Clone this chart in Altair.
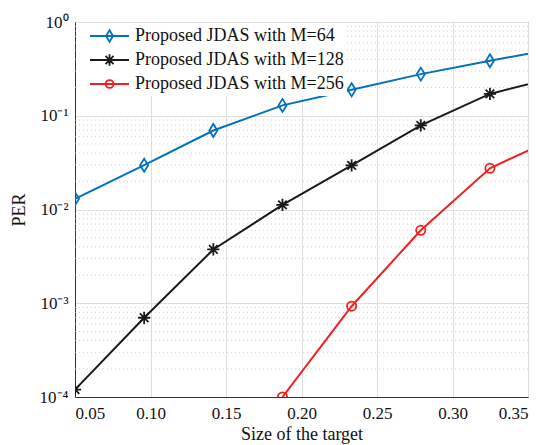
import altair as alt
import pandas as pd

# ---- data ----
x_vals = [0.05, 0.0958, 0.1416, 0.1874, 0.2332, 0.279, 0.3248, 0.3706]
per_m64 = [0.013, 0.0297, 0.0696, 0.129, 0.189, 0.278, 0.386, 0.527]
per_m128 = [0.00012, 0.0007, 0.00375, 0.0112, 0.0296, 0.079, 0.171, 0.264]
per_m256 = [None, None, None, 0.0001, 0.00093, 0.006, 0.0275, 0.0607]
series_names = ["Proposed JDAS with M=64", "Proposed JDAS with M=128", "Proposed JDAS with M=256"]
colors = ["#0072BD", "#1a1a1a", "#F21F1F"]
x_ticks = [0.05, 0.10, 0.15, 0.20, 0.25, 0.30, 0.35]
y_major = [1e-4, 1e-3, 1e-2, 1e-1, 1]
y_minor = [m * 10.0 ** e for e in range(-4, 0) for m in range(2, 10)]

rows = []
for name, vals in zip(series_names, [per_m64, per_m128, per_m256]):
    for xv, v in zip(x_vals, vals):
        if v is not None:
            rows.append({"x": xv, "per": v, "series": name})
df = pd.DataFrame(rows)
minor_df = pd.DataFrame({"v": y_minor})

# marker shapes (plot) and legend symbols (line + marker)
diamond = "M0,-1L0.62,0L0,1L-0.62,0Z"
asterisk = "M-1,0L1,0M0,-1L0,1M-0.7,-0.7L0.7,0.7M-0.7,0.7L0.7,-0.7"
circle = "circle"
leg_diamond = "M0.11,0L4.44,0M2.28,-0.64L2.67,0L2.28,0.64L1.89,0Z"
leg_asterisk = ("M0.11,0L4.44,0M2.28,-0.64L2.28,0.64M1.64,0L2.92,0"
                "M1.83,-0.45L2.73,0.45M1.83,0.45L2.73,-0.45")
leg_circle = "M0.11,0L4.44,0M2.72,0A0.44,0.44 0 1 1 1.84,0A0.44,0.44 0 1 1 2.72,0Z"

FONT = "Liberation Serif"

xscale = alt.Scale(domain=[0.05, 0.35], nice=False, zero=False)
yscale = alt.Scale(type="log", domain=[1e-4, 1], nice=False)
cscale = alt.Scale(domain=series_names, range=colors)

X = alt.X("x:Q", scale=xscale,
          axis=alt.Axis(values=x_ticks, format=".2f", title="Size of the target",
                        grid=True, gridColor="#dedede", gridWidth=1,
                        ticks=False, domainColor="#333",
                        labelFont=FONT, labelFontSize=17, labelColor="#111",
                        titleFont=FONT, titleFontSize=18, titleFontWeight="normal",
                        titleColor="#111", labelPadding=8, titlePadding=4))
Y = alt.Y("per:Q", scale=yscale,
          axis=alt.Axis(values=y_major, title="PER",
                        labelExpr="['10⁻⁴','10⁻³','10⁻²','10⁻¹','10⁰'][round(log(datum.value)/LN10)+4]",
                        grid=True, gridColor="#dedede", gridWidth=1,
                        ticks=False, domainColor="#333",
                        labelFont=FONT, labelFontSize=17, labelColor="#111",
                        titleFont=FONT, titleFontSize=18, titleFontWeight="normal",
                        titleColor="#111", labelPadding=7, titlePadding=11))

minor_grid = alt.Chart(minor_df).mark_rule(
    color="#c4c4c4", strokeWidth=0.8, strokeDash=[1, 3]
).encode(y=alt.Y("v:Q", scale=yscale))

base = alt.Chart(df)

layers = [minor_grid]
for name, col in zip(series_names, colors):
    layers.append(
        base.transform_filter(alt.datum.series == name)
        .mark_line(strokeWidth=2, clip=True, color=col)
        .encode(x=X, y=Y)
    )
for name, col, shp, sz in zip(series_names, colors, [diamond, asterisk, circle], [170, 150, 85]):
    layers.append(
        base.transform_filter(alt.datum.series == name)
        .mark_point(shape=shp, size=sz, filled=False, strokeWidth=1.8, clip=True,
                    opacity=1, color=col)
        .encode(x=X, y=Y)
    )

legend_layer = base.mark_point(filled=False, opacity=0, clip=True).encode(
    x=X, y=Y,
    color=alt.Color("series:N", scale=cscale, title=None,
                    legend=alt.Legend(orient="none", legendX=1, legendY=1)),
    shape=alt.Shape("series:N", title=None,
                    scale=alt.Scale(domain=series_names,
                                    range=[leg_diamond, leg_asterisk, leg_circle]),
                    legend=alt.Legend(orient="none", legendX=1, legendY=1)),
)
layers.append(legend_layer)

chart = alt.layer(*layers).properties(
    width=453, height=375,
    padding={"left": 67, "top": 14, "right": 2, "bottom": 60},
    autosize=alt.AutoSizeParams(type="none"),
).configure_view(
    stroke="#333", strokeWidth=1
).configure_legend(
    fillColor="white", strokeColor=None, padding=3, cornerRadius=0,
    symbolSize=324, symbolStrokeWidth=1.8, symbolOpacity=1,
    labelFont=FONT, labelFontSize=18, labelColor="#111", labelOffset=36,
    rowPadding=4, labelLimit=400,
)

chart.save("out.html", embed_options={"renderer": "svg", "actions": False})
